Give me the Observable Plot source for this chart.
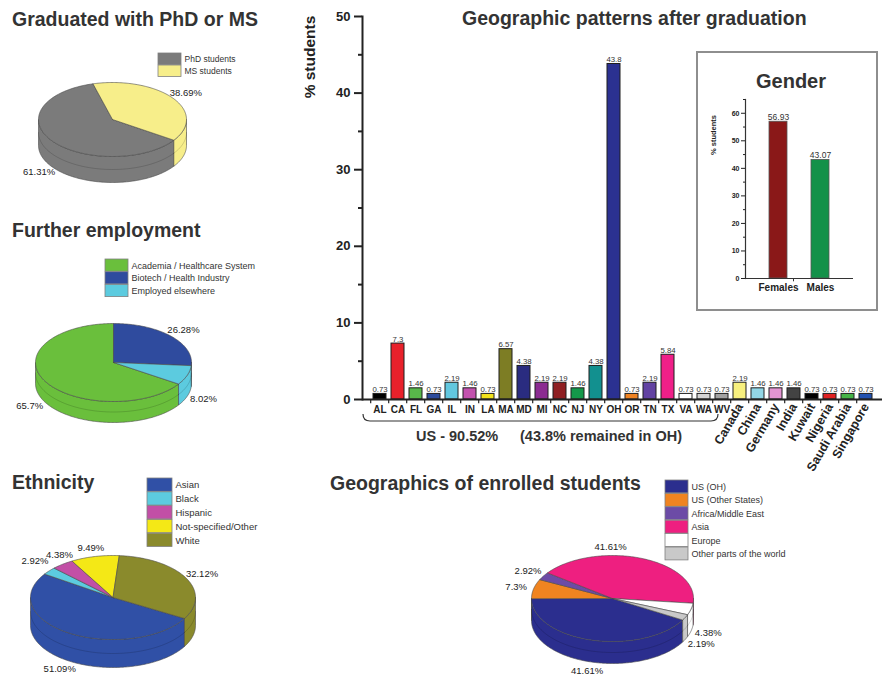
<!DOCTYPE html>
<html>
<head>
<meta charset="utf-8">
<script src="https://cdn.jsdelivr.net/npm/d3@7"></script>
<script src="https://cdn.jsdelivr.net/npm/@observablehq/plot@0.6"></script>
<style>
  html, body { margin: 0; padding: 0; background: #fff; }
  #root { position: relative; width: 890px; height: 679px; overflow: hidden; background: #fff;
          font-family: "Liberation Sans", Arial, sans-serif; }
  .layer { position: absolute; }
  #gender { left: 696px; top: 51px; width: 182px; height: 260px; border: 2px solid #8e8e8e;
            box-sizing: border-box; background: #fff; }
  #ov { position: absolute; left: 0; top: 0; pointer-events: none; }
  svg { overflow: visible; }
</style>
</head>
<body>
<div id="root">
  <div id="bg" class="layer" style="left:0;top:0"></div>
  <div id="main" class="layer" style="left:300px;top:0"></div>
  <div id="gender" class="layer"></div>
</div>
<script>
// ================= DATA =================
const degreeLabels = ["PhD students", "MS students"];
const degreeValues = [61.31, 38.69];
const degreeColors = ["#7b7b7b", "#f7ee8a"];

const employLabels = ["Academia / Healthcare System", "Biotech / Health Industry", "Employed elsewhere"];
const employValues = [65.7, 26.28, 8.02];
const employColors = ["#6abf3c", "#2f4b9e", "#5ccbdf"];

const ethnicLabels = ["Asian", "Black", "Hispanic", "Not-specified/Other", "White"];
const ethnicValues = [51.09, 2.92, 4.38, 9.49, 32.12];
const ethnicColors = ["#3050a6", "#5ccbdf", "#c24fa6", "#f4e816", "#8a8a2c"];

const enrollLabels = ["US (OH)", "US (Other States)", "Africa/Middle East", "Asia", "Europe", "Other parts of the world"];
const enrollValues = [41.61, 7.3, 2.92, 41.61, 4.38, 2.19];
const enrollColors = ["#2b2e8e", "#f08420", "#6c4ba6", "#ee1f80", "#ffffff", "#c9c9c9"];

const destCategories = ["AL","CA","FL","GA","IL","IN","LA","MA","MD","MI","NC","NJ","NY","OH","OR","TN","TX","VA","WA","WV",
  "Canada","China","Germany","India","Kuwait","Nigeria","Saudi Arabia","Singapore"];
const destValues = [0.73,7.3,1.46,0.73,2.19,1.46,0.73,6.57,4.38,2.19,2.19,1.46,4.38,43.8,0.73,2.19,5.84,0.73,0.73,0.73,
  2.19,1.46,1.46,1.46,0.73,0.73,0.73,0.73];
const destColors = ["#000000","#e8212b","#58b84a","#2c4c9c","#62c7df","#c352ae","#f1e21c","#7d7d24","#2a2c80","#8b2b91",
  "#8f1f22","#14984a","#12908f","#2b3191","#ef8322","#6242a2","#ef1f88","#ffffff","#d4d4d4","#a2a2a2",
  "#f8f07e","#92d6e6","#e394d2","#434343","#000000","#e02222","#45b346","#2252b0"];
const usStates = destCategories.slice(0, 20);
const countries = destCategories.slice(20);
const destTicks = [0, 10, 20, 30, 40, 50];
const destMinorTicks = [5, 15, 25, 35, 45];

const genderLabels = ["Females", "Males"];
const genderValues = [56.93, 43.07];
const genderColors = ["#8a1818", "#139149"];
const genderTicks = [0, 10, 20, 30, 40, 50, 60];
const genderMinorTicks = [5, 15, 25, 35, 45, 55, 65];

const usSummary = "US - 90.52%";
const ohSummary = "(43.8% remained in OH)";

// ================= LAYOUT =================
const FONT = "Liberation Sans, Arial, sans-serif";
const pies = [
  {name: "deg", labels: degreeLabels, values: degreeValues, colors: degreeColors,
   cx: 112, cy: 119, rx: 74, ry: 37, depth: 26, start: 124, lr: 1.22,
   legend: {x: 158, y: 53, w: 23, h: 12, size: 8.5}, nudge: {}},
  {name: "emp", labels: employLabels, values: employValues, colors: employColors,
   cx: 113, cy: 362, rx: 78, ry: 39, depth: 21, start: 123.5, lr: 1.22,
   legend: {x: 105, y: 259, w: 23, h: 12.7, size: 9}, nudge: {}},
  {name: "eth", labels: ethnicLabels, values: ethnicValues, colors: ethnicColors,
   cx: 112.5, cy: 597, rx: 82.5, ry: 42, depth: 28, start: 120, lr: 1.22,
   legend: {x: 147, y: 478, w: 25, h: 13.8, size: 9.5}, nudge: {1: [0, -4], 2: [8, -2]}},
  {name: "enr", labels: enrollLabels, values: enrollValues, colors: enrollColors,
   cx: 612, cy: 598, rx: 81, ry: 43, depth: 22, start: 120, lr: 1.22,
   legend: {x: 665, y: 480, w: 23, h: 13.4, size: 9}, nudge: {3: [-38, -3]}}
];

const rad = d => d * Math.PI / 180;
function pieGeometry(p) {
  const total = d3.sum(p.values);
  const tops = [], sides = [], mids = [], texts = [], legendRows = [];
  let a = p.start;
  const px = t => p.cx + p.rx * Math.sin(rad(t));
  const py = t => p.cy - p.ry * Math.cos(rad(t));
  p.values.forEach((v, i) => {
    const span = v / total * 360;
    const a0 = a, a1 = a + span;
    a = a1;
    const key = p.name + i;
    const n = Math.max(2, Math.ceil(span));
    tops.push({key, x: p.cx, y: p.cy, fill: p.colors[i]});
    for (let k = 0; k <= n; k++) {
      const t = a0 + (a1 - a0) * k / n;
      tops.push({key, x: px(t), y: py(t), fill: p.colors[i]});
    }
    tops.push({key, x: p.cx, y: p.cy, fill: p.colors[i]});
    for (const base of [-360, 0, 360]) {
      const s = Math.max(a0, base + 90), e = Math.min(a1, base + 270);
      if (e > s) {
        const m = Math.max(2, Math.ceil(e - s));
        const up = [], dn = [];
        for (let k = 0; k <= m; k++) {
          const t = s + (e - s) * k / m;
          up.push([px(t), py(t)]);
          dn.push([px(t), py(t) + p.depth]);
          mids.push({key: key + "m" + base, x: px(t), y: py(t) + p.depth * 0.5});
        }
        const poly = up.concat(dn.reverse());
        poly.push(up[0]);
        poly.forEach(q => sides.push({key: key + "s" + base, x: q[0], y: q[1], fill: p.colors[i]}));
      }
    }
    const mid = (a0 + a1) / 2;
    const front = -Math.cos(rad(mid)) > 0;
    const nd = p.nudge[i] || [0, 0];
    texts.push({
      x: p.cx + p.rx * p.lr * Math.sin(rad(mid)) + nd[0],
      y: p.cy - p.ry * p.lr * Math.cos(rad(mid)) + (front ? p.depth : 0) + nd[1],
      text: v + "%"
    });
    const L = p.legend;
    legendRows.push({x1: L.x, x2: L.x + L.w, y1: L.y + i * L.h, y2: L.y + (i + 1) * L.h - 0.5,
      fill: p.colors[i], label: p.labels[i], tx: L.x + L.w + 3, ty: L.y + (i + 0.5) * L.h, size: L.size});
  });
  return {tops, sides, mids, texts, legendRows};
}

// ================= BACKGROUND (pies + legends) =================
const bgMarks = [];
for (const p of pies) {
  const g = pieGeometry(p);
  bgMarks.push(
    Plot.line(g.sides, {x: "x", y: "y", z: "key", fill: "fill", stroke: "#4a4a4a", strokeWidth: 0.6, curve: "linear"}),
    Plot.line(g.mids, {x: "x", y: "y", z: "key", stroke: "#000", strokeOpacity: 0.25, strokeWidth: 0.6}),
    Plot.line(g.tops, {x: "x", y: "y", z: "key", fill: "fill", stroke: "#4a4a4a", strokeWidth: 0.6, curve: "linear"}),
    Plot.text(g.texts, {x: "x", y: "y", text: "text", fontSize: 9.5, fill: "#222", textAnchor: "middle", lineAnchor: "middle"}),
    Plot.rect(g.legendRows, {x1: "x1", x2: "x2", y1: "y1", y2: "y2", fill: "fill", stroke: "#808080", strokeWidth: 0.8}),
    Plot.text(g.legendRows, {x: "tx", y: "ty", text: "label", fontSize: g.legendRows[0].size, fill: "#333",
      textAnchor: "start", lineAnchor: "middle"})
  );
}
const bg = Plot.plot({
  width: 890, height: 679, margin: 0,
  x: {domain: [0, 890], range: [0, 890], axis: null},
  y: {domain: [0, 679], range: [0, 679], axis: null},
  color: {type: "identity"},
  style: {fontFamily: FONT, background: "transparent"},
  marks: bgMarks
});
document.getElementById("bg").appendChild(bg);

// ================= MAIN BAR CHART =================
const destData = destCategories.map((c, i) => ({cat: c, val: destValues[i], color: destColors[i]}));
const main = Plot.plot({
  width: 590, height: 460,
  marginLeft: 62, marginRight: 8, marginTop: 16, marginBottom: 61,
  x: {domain: destCategories, padding: 0.28, axis: null},
  y: {domain: [0, 50], axis: null},
  color: {type: "identity"},
  style: {fontFamily: FONT, color: "#222", background: "transparent"},
  marks: [
    Plot.barY(destData, {x: "cat", y: "val", fill: "color", stroke: "#1e1e1e", strokeWidth: 1}),
    Plot.text(destData, {x: "cat", y: "val", text: d => String(d.val), dy: -2, lineAnchor: "bottom",
      fontSize: 7.8, fill: "#333"}),
    Plot.ruleX(destCategories, {x: d => d, y1: 0, y2: -0.55, dx: -9.3, stroke: "#222", strokeWidth: 1.2}),
    Plot.frame({anchor: "left", stroke: "#222", strokeWidth: 2}),
    Plot.ruleY([0], {stroke: "#222", strokeWidth: 2}),
    Plot.axisY({ticks: destTicks, tickSize: 8, tickPadding: 4, fontSize: 13, fontWeight: "bold",
      label: null, strokeWidth: 2}),
    Plot.axisY({ticks: destMinorTicks, tickSize: 4, tickFormat: () => "", label: null, strokeWidth: 2}),
    Plot.axisX({ticks: usStates, tickSize: 0, tickPadding: 6, fontSize: 10, fontWeight: "bold", label: null}),
    Plot.axisX({ticks: countries, tickSize: 0, tickPadding: 5, tickRotate: -60, fontSize: 12.5,
      fontWeight: "bold", label: null})
  ]
});
document.getElementById("main").appendChild(main);

// ================= GENDER INSET =================
const genderData = genderLabels.map((g, i) => ({g, v: genderValues[i], color: genderColors[i]}));
const gender = Plot.plot({
  width: 178, height: 256,
  marginLeft: 47, marginRight: 23, marginTop: 46, marginBottom: 31,
  x: {domain: genderLabels, padding: 0.57, axis: null},
  y: {domain: [0, 65], axis: null},
  color: {type: "identity"},
  style: {fontFamily: FONT, color: "#222", background: "transparent"},
  marks: [
    Plot.barY(genderData, {x: "g", y: "v", fill: "color", stroke: "#555", strokeWidth: 0.8}),
    Plot.text(genderData, {x: "g", y: "v", text: d => String(d.v), dy: -2, lineAnchor: "bottom", fontSize: 8.5, fill: "#333"}),
    Plot.ruleX(genderLabels.slice(1), {x: d => d, y1: 0, y2: -1.2, dx: -27, stroke: "#333"}),
    Plot.frame({anchor: "left", stroke: "#333", strokeWidth: 1.2}),
    Plot.ruleY([0], {stroke: "#333", strokeWidth: 1.2}),
    Plot.axisY({ticks: genderTicks, tickSize: 4, tickPadding: 2, fontSize: 7, fontWeight: "bold", label: null}),
    Plot.axisY({ticks: genderMinorTicks, tickSize: 2, tickFormat: () => "", label: null}),
    Plot.axisX({tickSize: 0, tickPadding: 5, fontSize: 10, fontWeight: "bold", label: null})
  ]
});
document.getElementById("gender").appendChild(gender);

// ================= OVERLAY TEXT =================
const ov = d3.select("#root").append("svg").attr("id", "ov")
  .attr("width", 890).attr("height", 679).style("font-family", FONT);
const titles = [
  {t: "Graduated with PhD or MS", x: 12, y: 26},
  {t: "Further employment", x: 12, y: 237},
  {t: "Ethnicity", x: 12, y: 489},
  {t: "Geographics of enrolled students", x: 330, y: 490},
  {t: "Geographic patterns after graduation", x: 462, y: 25}
];
ov.selectAll("text.title").data(titles).join("text").attr("class", "title")
  .attr("x", d => d.x).attr("y", d => d.y).attr("fill", "#333")
  .attr("font-size", 19.5).attr("font-weight", "bold").text(d => d.t);

ov.append("text").attr("transform", "translate(315,57) rotate(-90)").attr("text-anchor", "middle")
  .attr("font-size", 15.5).attr("font-weight", "bold").attr("fill", "#222").text("% students");

ov.append("path").attr("d", "M363,414 Q363,421 370,421 L711,421 Q718,421 718,414")
  .attr("fill", "none").attr("stroke", "#333").attr("stroke-width", 1.2);
ov.append("text").attr("x", 416).attr("y", 441).attr("font-size", 14.5).attr("font-weight", "bold")
  .attr("fill", "#333").text(usSummary);
ov.append("text").attr("x", 520).attr("y", 441).attr("font-size", 14.5).attr("font-weight", "bold")
  .attr("fill", "#333").text(ohSummary);

ov.append("text").attr("x", 791).attr("y", 88).attr("text-anchor", "middle").attr("font-size", 20)
  .attr("font-weight", "bold").attr("fill", "#333").text("Gender");
ov.append("text").attr("transform", "translate(716,135) rotate(-90)").attr("text-anchor", "middle")
  .attr("font-size", 7.5).attr("font-weight", "bold").attr("fill", "#222").text("% students");
</script>
</body>
</html>
